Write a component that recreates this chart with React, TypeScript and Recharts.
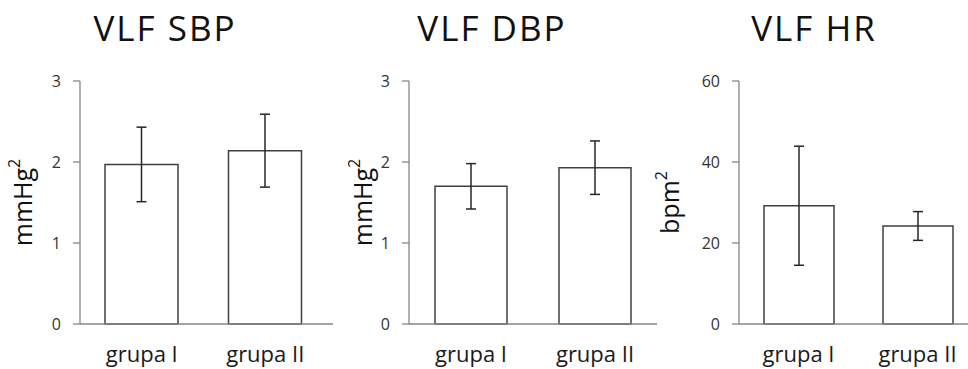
import React from 'react';
import { BarChart, Bar, XAxis, YAxis, ErrorBar } from 'recharts';

const categories = ['grupa I', 'grupa II'];
const sbpValues = [1.97, 2.14];
const sbpErrors = [0.46, 0.45];
const dbpValues = [1.7, 1.93];
const dbpErrors = [0.28, 0.33];
const hrValues = [29.2, 24.2];
const hrErrors = [14.7, 3.55];
const bpTicks = [0, 1, 2, 3];
const hrTicks = [0, 20, 40, 60];
const titles = ['VLF SBP', 'VLF DBP', 'VLF HR'];
const units = ['mmHg', 'mmHg', 'bpm'];

const FONT = "'Open Sans', sans-serif";

type PanelProps = {
  left: number;
  width: number;
  axisWidth: number;
  xPadRight: number;
  values: number[];
  errors: number[];
  ticks: number[];
  unit: string;
  labelDist: number;
  barSize: number;
};

function Panel(p: PanelProps) {
  const data = categories.map((c, i) => ({ name: c, value: p.values[i], err: p.errors[i] }));
  const domainMax = p.ticks[p.ticks.length - 1];
  const renderLabel = (props: any) => {
    const vb = props.viewBox || { x: 0, y: 81, width: p.axisWidth, height: 243 };
    const x = vb.x + vb.width - p.labelDist;
    const y = vb.y + vb.height / 2;
    return (
      <text
        x={x}
        y={y}
        transform={`rotate(-90, ${x}, ${y})`}
        textAnchor="middle"
        fontSize={25}
        fill="#111"
        fontFamily={FONT}
      >
        {p.unit}
        <tspan dy={-12} fontSize={16}>2</tspan>
      </text>
    );
  };
  return (
    <div style={{ position: 'absolute', left: p.left, top: 0 }}>
      <BarChart
        width={p.width}
        height={369}
        data={data}
        margin={{ top: 81, right: 0, bottom: 15, left: 0 }}
        style={{ overflow: 'visible' }}
      >
        <XAxis
          dataKey="name"
          height={30}
          axisLine={{ stroke: '#868686', strokeWidth: 1.3 }}
          tickLine={false}
          tick={{ fill: '#1a1a1a', fontSize: 22 }}
          tickSize={6}
          tickMargin={16}
          interval={0}
          padding={{ left: 0, right: p.xPadRight }}
        />
        <YAxis
          domain={[0, domainMax]}
          ticks={p.ticks}
          width={p.axisWidth}
          axisLine={{ stroke: '#868686', strokeWidth: 1.3 }}
          tickLine={{ stroke: '#868686', strokeWidth: 1.3 }}
          tickSize={7}
          tickMargin={12}
          tick={{ fill: '#333333', fontSize: 16 }}
          label={{ content: renderLabel }}
        />
        <Bar
          dataKey="value"
          fill="#ffffff"
          stroke="#404040"
          strokeWidth={1.5}
          barSize={p.barSize}
          isAnimationActive={false}
        >
          <ErrorBar dataKey="err" width={5} stroke="#262626" strokeWidth={1.5} />
        </Bar>
      </BarChart>
    </div>
  );
}

const titleStyle = (center: number): React.CSSProperties => ({
  position: 'absolute',
  left: center - 120,
  width: 240,
  top: 11,
  textAlign: 'center',
  fontSize: 35,
  lineHeight: '34px',
  letterSpacing: 2,
  color: '#111',
  fontFamily: FONT,
  whiteSpace: 'nowrap',
});

export default function App() {
  return (
    <div
      style={{
        position: 'absolute',
        left: 0,
        top: 0,
        width: 968,
        height: 369,
        overflow: 'hidden',
        background: '#fff',
        fontFamily: FONT,
      }}
    >
      <Panel left={0} width={333} axisWidth={80} xPadRight={6} values={sbpValues} errors={sbpErrors} ticks={bpTicks} unit={units[0]} labelDist={48} barSize={73} />
      <Panel left={330} width={327} axisWidth={79} xPadRight={0} values={dbpValues} errors={dbpErrors} ticks={bpTicks} unit={units[1]} labelDist={37} barSize={72} />
      <Panel left={640} width={337} axisWidth={99} xPadRight={0} values={hrValues} errors={hrErrors} ticks={hrTicks} unit={units[2]} labelDist={60} barSize={70} />
      <div style={titleStyle(165)}>{titles[0]}</div>
      <div style={titleStyle(492)}>{titles[1]}</div>
      <div style={titleStyle(814)}>{titles[2]}</div>
    </div>
  );
}
